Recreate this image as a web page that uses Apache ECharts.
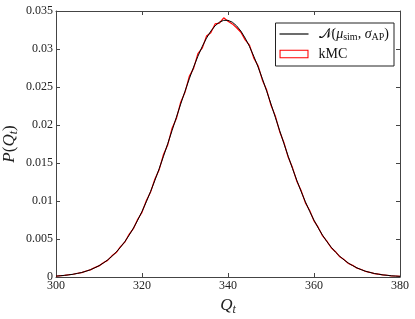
<!DOCTYPE html>
<html><head><meta charset="utf-8">
<script src="https://cdn.jsdelivr.net/npm/echarts@6/dist/echarts.min.js"></script>
<style>html,body{margin:0;padding:0;background:#fff}#c{width:415px;height:319px}</style>
</head><body><div id="c"></div>
<script>
var qValues = [300,301,302,303,304,305,306,307,308,309,310,311,312,313,314,315,316,317,318,319,320,321,322,323,324,325,326,327,328,329,330,331,332,333,334,335,336,337,338,339,340,341,342,343,344,345,346,347,348,349,350,351,352,353,354,355,356,357,358,359,360,361,362,363,364,365,366,367,368,369,370,371,372,373,374,375,376,377,378,379,380];
var normalValues = [0.00012,0.00016,0.00022,0.00028,0.00037,0.00047,0.00060,0.00076,0.00096,0.00120,0.00149,0.00183,0.00224,0.00272,0.00327,0.00392,0.00465,0.00549,0.00643,0.00747,0.00863,0.00989,0.01126,0.01272,0.01426,0.01589,0.01757,0.01929,0.02102,0.02275,0.02444,0.02608,0.02762,0.02904,0.03032,0.03143,0.03235,0.03305,0.03353,0.03377,0.03377,0.03353,0.03305,0.03235,0.03143,0.03032,0.02904,0.02762,0.02608,0.02444,0.02275,0.02102,0.01929,0.01757,0.01589,0.01426,0.01272,0.01126,0.00989,0.00863,0.00747,0.00643,0.00549,0.00465,0.00392,0.00327,0.00272,0.00224,0.00183,0.00149,0.00120,0.00096,0.00076,0.00060,0.00047,0.00037,0.00028,0.00022,0.00016,0.00012,0.00009];
var kmcValues = [0.00010,0.00017,0.00021,0.00030,0.00036,0.00049,0.00058,0.00079,0.00094,0.00124,0.00146,0.00188,0.00219,0.00279,0.00322,0.00399,0.00458,0.00562,0.00636,0.00760,0.00851,0.01003,0.01117,0.01290,0.01412,0.01612,0.01741,0.01958,0.02085,0.02301,0.02430,0.02640,0.02745,0.02940,0.03010,0.03170,0.03215,0.03330,0.03340,0.03410,0.03365,0.03330,0.03280,0.03220,0.03120,0.03050,0.02880,0.02780,0.02590,0.02460,0.02260,0.02120,0.01915,0.01770,0.01575,0.01440,0.01260,0.01138,0.00975,0.00875,0.00738,0.00652,0.00540,0.00472,0.00385,0.00333,0.00266,0.00229,0.00178,0.00153,0.00116,0.00099,0.00073,0.00062,0.00045,0.00038,0.00027,0.00023,0.00015,0.00013,0.00009];
var xTicks = [300,320,340,360,380];
var yTicks = [0,0.005,0.01,0.015,0.02,0.025,0.03,0.035];

var font = 'Liberation Serif';
var normalPairs = qValues.map(function(q,i){return [q, normalValues[i]];});
var kmcPairs = qValues.map(function(q,i){return [q, kmcValues[i]];});
var axisCol = '#444';
function xAx(pos, show){
  return {type:'value', position:pos, min:xTicks[0], max:xTicks[xTicks.length-1], interval:xTicks[1]-xTicks[0],
    axisLine:{show:true, onZero:false, lineStyle:{color:axisCol,width:1}},
    axisTick:{show:true, inside:true, length:4, lineStyle:{color:axisCol}},
    axisLabel:{show:show, color:'#222', fontFamily:font, fontSize:12, margin:3},
    splitLine:{show:false},
    name: show ? '{q|Q}{s|t}' : '', nameLocation:'middle', nameGap:19, nameMoveOverlap:false,
    nameTextStyle:{rich:{q:{fontFamily:font, fontStyle:'italic', fontSize:17, color:'#222'}, s:{fontFamily:font, fontStyle:'italic', fontSize:12, color:'#222', padding:[8,0,0,0]}}}
  };
}
function yAx(pos, show){
  return {type:'value', position:pos, min:yTicks[0], max:yTicks[yTicks.length-1], interval:yTicks[1]-yTicks[0],
    axisLine:{show:true, lineStyle:{color:axisCol,width:1}},
    axisTick:{show:true, inside:true, length:4, lineStyle:{color:axisCol}},
    axisLabel:{show:show, color:'#222', fontFamily:font, fontSize:12, margin:3,
      formatter:function(v){return String(parseFloat(v.toFixed(3)));}},
    splitLine:{show:false},
    name: show ? '{q|P}{a|(}{q|Q}{s|t}{a|)}' : '', nameLocation:'middle', nameGap:36, nameRotate:90, nameMoveOverlap:false,
    nameTextStyle:{rich:{a:{fontFamily:font, fontSize:17, color:'#222'}, q:{fontFamily:font, fontStyle:'italic', fontSize:17, color:'#222'}, s:{fontFamily:font, fontStyle:'italic', fontSize:12, color:'#222', padding:[8,0,0,0]}}}
  };
}
var chart = echarts.init(document.getElementById('c'), null, {renderer:'canvas'});
chart.setOption({
  animation:false,
  backgroundColor:'#fff',
  grid:{left:56, right:15, top:11, bottom:42, containLabel:false, outerBoundsMode:'none'},
  xAxis:[xAx('bottom', true), xAx('top', false)],
  yAxis:[yAx('left', true), yAx('right', false)],
  legend:{
    orient:'vertical', right:21, top:23, padding:[4,5,5,4], itemGap:5, itemWidth:29, itemHeight:9,
    symbolKeepAspect:true,
    backgroundColor:'#fff', borderColor:'#222', borderWidth:1,
    data:[
      {name:'normal', icon:'path://M0,0L30,0L30,1.2L0,1.2Z', itemStyle:{color:'#000', borderWidth:0}},
      {name:'kMC', icon:'path://M0,0L30,0L30,9L0,9Z M1.1,1.1L1.1,7.9L28.9,7.9L28.9,1.1Z', itemStyle:{color:'#ff0000', borderWidth:0}}
    ],
    formatter:function(n){
      if(n==='normal') return '{n|𝒩}{a|(}{g|μ}{s|sim}{a|, }{g|σ}{s|AP}{a|)}';
      return '{k|kMC}';
    },
    textStyle:{rich:{
      n:{fontFamily:'DejaVu Serif', fontSize:14, color:'#111', padding:[0,0,0,5]},
      a:{fontFamily:font, fontSize:14, color:'#111'},
      k:{fontFamily:font, fontSize:14, color:'#111', padding:[0,0,0,5]},
      g:{fontFamily:font, fontStyle:'italic', fontSize:14, color:'#111'},
      s:{fontFamily:font, fontSize:10, color:'#111', padding:[6,0,0,0]}
    }}
  },
  series:[
    {name:'kMC', type:'line', data:kmcPairs, symbol:'none', lineStyle:{color:'#ff0000', width:1.2}, itemStyle:{color:'#ff0000'}, z:2},
    {name:'normal', type:'line', data:normalPairs, symbol:'none', lineStyle:{color:'#000', width:1}, itemStyle:{color:'#000'}, z:3}
  ]
});
</script></body></html>
